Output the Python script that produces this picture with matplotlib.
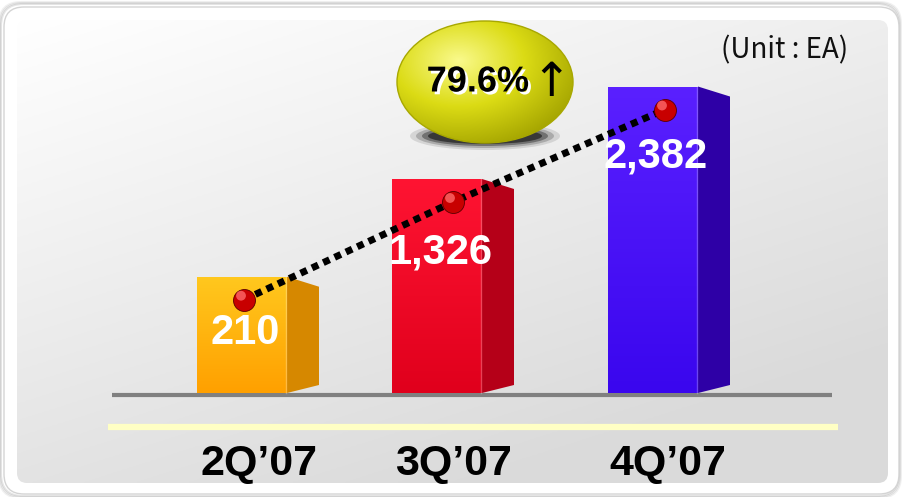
import numpy as np
import matplotlib
matplotlib.use("Agg")
import matplotlib.pyplot as plt
import matplotlib.patheffects as pe
from matplotlib.patches import FancyBboxPatch, Polygon, Ellipse
from matplotlib.transforms import offset_copy

# data
quarters = ["2Q\u201907", "3Q\u201907", "4Q\u201907"]
units = [210, 1326, 2382]
value_labels = ["210", "1,326", "2,382"]
growth_label = "79.6%"
unit_note = "(Unit : EA)"

# layout (pixels)
W, H = 903, 497
bar_x = [242, 437, 653]
ball_x = [244, 453, 665]
label_x = [259, 453, 668]
label_dy = [56, 74, 70]
bar_w = 90
depth = 32
base_px = 393
px_per_unit = 1 / 11.42
base_val = -1118

front_top = ["#ffc81e", "#ff1432", "#5a20ff"]
front_bot = ["#ffa000", "#e0001c", "#3a06ee"]
side_col = ["#d68800", "#b50018", "#2e00a6"]

fig = plt.figure(figsize=(W / 100, H / 100), dpi=100)
fig.patch.set_facecolor("white")

# background axes in pixel coordinates (y grows downwards)
bg = fig.add_axes([0, 0, 1, 1])
bg.set_xlim(0, W)
bg.set_ylim(H, 0)
bg.axis("off")

# outer white frame with a soft grey shadow
for i, a in enumerate([0.10, 0.08, 0.06]):
    sh = FancyBboxPatch((1 - i, 4 - i), 898 + 2 * i, 492 + 2 * i,
                        boxstyle="round,pad=0,rounding_size=22",
                        fc="none", ec=(0, 0, 0, a), lw=1.5)
    bg.add_patch(sh)
frame = FancyBboxPatch((4, 7), 895, 487, boxstyle="round,pad=0,rounding_size=20",
                       fc="white", ec="#d4d4d4", lw=1)
bg.add_patch(frame)

# inner panel with diagonal grey gradient
panel = FancyBboxPatch((17, 20), 871, 463, boxstyle="round,pad=0,rounding_size=10",
                       fc="none", ec="none")
bg.add_patch(panel)
gx, gy = np.meshgrid(np.linspace(0, 1, 300), np.linspace(0, 1, 200))
g = np.clip(0.45 * gx + 0.75 * gy, 0, 1)
c0 = np.array([1.0, 1.0, 1.0])
c1 = np.array([0.855, 0.855, 0.855])
img = c0[None, None, :] * (1 - g[..., None]) + c1[None, None, :] * g[..., None]
im = bg.imshow(img, extent=(17, 888, 483, 20), aspect="auto", zorder=1)
im.set_clip_path(panel)

# base line and pale yellow strip
bg.plot([112, 832], [395, 395], color="#808080", lw=3, solid_capstyle="butt", zorder=2)
bg.plot([108, 838], [427, 427], color="#ffffc4", lw=4.5, solid_capstyle="butt", zorder=2)

# category labels
for x, q in zip(label_x, quarters):
    bg.text(x, 464, q, ha="center", va="center", fontsize=31, fontweight="bold",
            family=["Liberation Sans", "DejaVu Sans"], color="black", zorder=3)

# unit note
bg.text(785, 50, unit_note, ha="center", va="center", fontsize=20,
        family=["Noto Sans CJK KR", "DejaVu Sans"], color="#111111", zorder=3)

# growth bubble: soft shadow below, yellow ellipse with radial shading
for i, a in enumerate([0.12, 0.22, 0.4, 0.65]):
    bg.add_patch(Ellipse((485, 136), 150 - 12 * i, 28 - 4 * i,
                         fc=(0.1, 0.1, 0.1, a), ec="none", zorder=3))
bub = Ellipse((485, 82), 176, 122, fc="none", ec="#a8a800", lw=1, zorder=5)
bg.add_patch(bub)
ex, ey = np.meshgrid(np.linspace(-1, 1, 200), np.linspace(-1, 1, 140))
r = np.sqrt((ex + 0.3) ** 2 + (ey + 0.35) ** 2)
t = np.clip(r / 1.5, 0, 1)
hi = np.array([0.98, 0.98, 0.55])
mid = np.array([0.86, 0.86, 0.08])
lo = np.array([0.64, 0.64, 0.0])
t3 = t[..., None]
yel = np.where(t3 < 0.5, hi * (1 - 2 * t3) + mid * (2 * t3), mid * (2 - 2 * t3) + lo * (2 * t3 - 1))
bim = bg.imshow(yel, extent=(397, 573, 143, 21), aspect="auto", zorder=4)
bim.set_clip_path(bub)
bg.text(478, 82, growth_label, ha="center", va="center", fontsize=26,
        fontweight="bold", family=["Liberation Sans", "DejaVu Sans"], color="black", zorder=7,
        path_effects=[pe.withSimplePatchShadow(offset=(2, -2), shadow_rgbFace="white", alpha=1)])
bg.text(551, 83, "\u2191", ha="center", va="center", fontsize=34,
        family=["DejaVu Sans"], color="black", zorder=7)

# bar axes in value units
ax = fig.add_axes([0, 0, 1, 1])
ax.patch.set_alpha(0)
ax.axis("off")
y_top = base_val + base_px / px_per_unit
y_bot = base_val - (H - base_px) / px_per_unit
k = 1 / px_per_unit

for i, v in enumerate(units):
    left = bar_x[i] - bar_w / 2
    right = bar_x[i] + bar_w / 2
    # side face
    side = Polygon([(right, v), (right + depth, v - 10 * k),
                    (right + depth, base_val + 8 * k), (right, base_val)],
                   closed=True, fc=side_col[i], ec="none", zorder=2)
    ax.add_patch(side)
    # front face with vertical gradient
    bars = ax.bar(bar_x[i], v - base_val, bottom=base_val, width=bar_w,
                  color="none", edgecolor="none", zorder=3)
    ct = np.array(matplotlib.colors.to_rgb(front_top[i]))
    cb = np.array(matplotlib.colors.to_rgb(front_bot[i]))
    s = np.linspace(0, 1, 100)[:, None, None]
    grad = ct * (1 - s) + cb * s
    grad = np.repeat(grad, 2, axis=1)
    gim = ax.imshow(grad, extent=(left, right, base_val, v), aspect="auto", zorder=3)
    gim.set_clip_path(bars.patches[0])
    # thin highlight along the right edge of the front face
    ax.plot([right - 1, right - 1], [base_val, v], color="white", alpha=0.25, lw=1, zorder=4)

# dotted trend line through the markers
ball_tr = offset_copy(ax.transData, fig=fig, x=0, y=-23, units="dots")
ax.plot(ball_x, units, transform=ball_tr, color="black", lw=5,
        linestyle=(0, (1, 0.8)), zorder=5)
ax.scatter(ball_x, units, transform=ball_tr, s=250, color="#c80000",
           edgecolor="#5a0000", linewidths=0.6, zorder=6)
hl_tr = offset_copy(ax.transData, fig=fig, x=-3, y=-19, units="dots")
ax.scatter(ball_x, units, transform=hl_tr, s=50, color="#ff6a6a", alpha=0.8,
           edgecolor="none", zorder=7)

# value labels on bars
for i, v in enumerate(units):
    tr = offset_copy(ax.transData, fig=fig, x=0, y=-label_dy[i], units="dots")
    ax.text(bar_x[i] + 3, v, value_labels[i], transform=tr, ha="center", va="center",
            fontsize=30, fontweight="bold", family=["Liberation Sans", "DejaVu Sans"],
            color="white", zorder=8)

ax.set_xlim(0, W)
ax.set_ylim(y_bot, y_top)

fig.savefig("out.png", dpi=100)
